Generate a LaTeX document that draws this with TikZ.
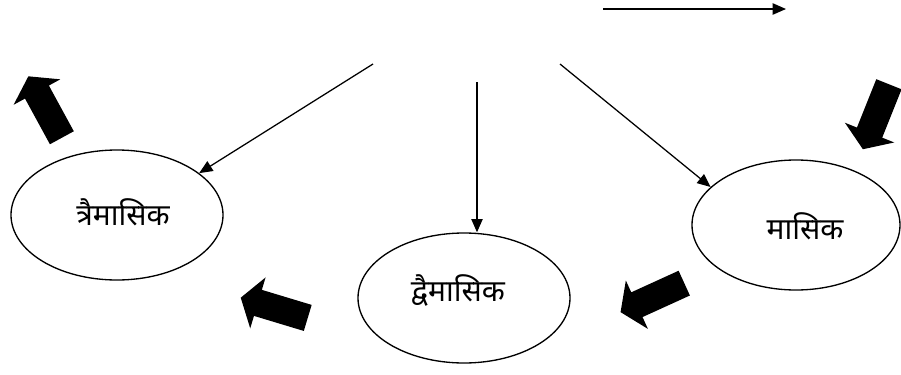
\documentclass[tikz,border=0pt]{standalone}
\usepackage{fontspec}
\newfontfamily\devfont[Script=Devanagari]{Noto Sans}
\usetikzlibrary{shapes.geometric,shapes.arrows,arrows.meta}

\begin{document}
\begin{tikzpicture}[x=0.75pt,y=-0.75pt,
  period/.style={ellipse,draw,line width=1pt,inner sep=0pt,minimum width=159pt,minimum height=97.5pt},
  word/.style={font=\devfont\fontsize{22.5}{26}\selectfont,inner sep=0pt},
  link/.style={-{Triangle[length=10pt,width=8.5pt]},line width=0.95pt},
  bigarrow/.style={single arrow,fill=black,draw=none,inner xsep=0pt,inner ysep=10pt,minimum height=52.5pt,single arrow head extend=9.75pt,single arrow tip angle=112,anchor=tail}]
\useasboundingbox (0,0) rectangle (901,375);
\node[period] (tri) at (117,215) {};
\node[period] (dvi) at (464,298) {};
\node[period,minimum width=156pt] (mas) at (796,225) {};
\node[word] (tritxt) at (123,212) {त्रैमासिक};
\node[word] (dvitxt) at (458,290) {द्वैमासिक};
\node[word] (mastxt) at (805,226) {मासिक};
\coordinate (a) at (373,64);
\coordinate (b) at (477,82);
\coordinate (c) at (560,64);
\coordinate (d) at (603,9);
\coordinate (e) at (786,9);
\draw[link] (a) -- (tri.27);
\draw[link] (b) -- (b |- dvi.north);
\draw[link] (c) -- (mas.156.7);
\draw[link] (d) -- (e);
\node[bigarrow,rotate=118.6] (upl) at (62,138) {};
\node[bigarrow,rotate=248.2] (upr) at (889,84) {};
\node[bigarrow,rotate=204.5] (dnr) at (684.5,283) {};
\node[bigarrow,rotate=163.2] (dnl) at (308,318) {};
\end{tikzpicture}
\end{document}
